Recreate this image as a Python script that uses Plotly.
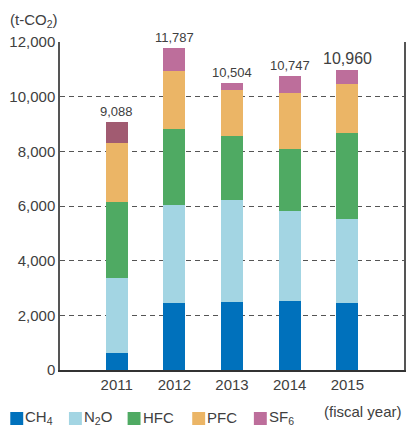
import plotly.graph_objects as go

# Greenhouse gas emissions other than CO2, by fiscal year (t-CO2)
years = [2011, 2012, 2013, 2014, 2015]
totals = [9088, 11787, 10504, 10747, 10960]
ch4 = [620, 2450, 2486, 2523, 2450]
n2o = [2746, 3583, 3730, 3291, 3071]
hfc = [2781, 2779, 2340, 2266, 3144]
pfc = [2159, 2120, 1682, 2048, 1792]
# SF6 fills the remainder up to each fiscal-year total
sf6 = [t - a - b - c - d for t, a, b, c, d in zip(totals, ch4, n2o, hfc, pfc)]

gas_names = ["CH<sub>4</sub>", "N<sub>2</sub>O", "HFC", "PFC", "SF<sub>6</sub>"]
gas_colors = ["#0071bc", "#a3d5e3", "#4faa63", "#ebb566", "#bd6e9b"]
sf6_bar_colors = ["#a15b71", "#bd6e9b", "#bd6e9b", "#bd6e9b", "#bd6e9b"]
year_ticks = ["2011", "2012", "2013", "2014", "2015"]
y_ticks = [0, 2000, 4000, 6000, 8000, 10000, 12000]

FONT = "Liberation Sans, Arial, sans-serif"
TEXT = "#404040"

W, H = 409, 426
L, R, T, B = 60, 3, 42, 56
pw, ph = W - L - R, H - T - B

fig = go.Figure()
series = [ch4, n2o, hfc, pfc, sf6]
for i, (name, vals) in enumerate(zip(gas_names, series)):
    color = sf6_bar_colors if i == 4 else gas_colors[i]
    fig.add_trace(go.Bar(
        x=years, y=vals, name=name, width=0.38,
        marker=dict(color=color, line=dict(width=0)),
        showlegend=False, hoverinfo="skip",
    ))

# totals above each stack
for yr, tot in zip(years, totals):
    fig.add_annotation(
        x=yr, y=tot, text=f"{tot:,}", showarrow=False,
        yanchor="bottom", yshift=1, xref="x", yref="y",
        font=dict(family=FONT, size=16 if yr == 2015 else 13, color=TEXT),
    )

# unit caption above the value axis
fig.add_annotation(
    xref="paper", yref="paper", x=-52 / pw, y=1.0, xanchor="left", yanchor="bottom",
    yshift=10, text="(t-CO<sub>2</sub>)", showarrow=False,
    font=dict(family=FONT, size=15, color=TEXT),
)
# category axis caption under the last year
fig.add_annotation(
    xref="paper", yref="paper", x=1.0, y=0, text="(fiscal year)", showarrow=False,
    xanchor="right", yanchor="top", yshift=-31,
    font=dict(family=FONT, size=15, color=TEXT),
)

# legend row drawn along the bottom edge
legend_x = [10, 69, 128, 193, 255]
for lx, name, color in zip(legend_x, gas_names, gas_colors):
    x0 = (lx - L) / pw
    x1 = (lx + 13 - L) / pw
    y0 = (H - B - 425) / ph
    y1 = (H - B - 412) / ph
    fig.add_shape(type="rect", xref="paper", yref="paper", x0=x0, x1=x1, y0=y0, y1=y1,
                  fillcolor=color, line=dict(width=0))
    fig.add_annotation(xref="paper", yref="paper", x=x1, y=(y0 + y1) / 2,
                       xanchor="left", yanchor="middle", yshift=1, text=name,
                       showarrow=False, font=dict(family=FONT, size=15, color=TEXT))

fig.update_layout(
    width=W, height=H,
    margin=dict(l=L, r=R, t=T, b=B),
    paper_bgcolor="white", plot_bgcolor="white",
    barmode="stack", bargap=0,
    font=dict(family=FONT, size=15, color=TEXT),
)
fig.update_xaxes(
    range=[2011 - 57 / 58, 2011 + 289 / 58],
    tickvals=years, ticktext=year_ticks,
    showgrid=False, zeroline=False,
    showline=True, linecolor="#333333", linewidth=1.5,
    ticks="", tickfont=dict(family=FONT, size=15, color=TEXT),
)
fig.update_yaxes(
    range=[0, 12000], tickvals=y_ticks,
    ticktext=[f"{v:,}" for v in y_ticks],
    showgrid=True, gridcolor="#555555", gridwidth=1, griddash="5px,4px",
    zeroline=False,
    showline=True, mirror=True, linecolor="#555555", linewidth=1.5,
    ticks="",
    tickfont=dict(family=FONT, size=15, color=TEXT),
)

fig.write_html("out.html", config={"displayModeBar": False})
